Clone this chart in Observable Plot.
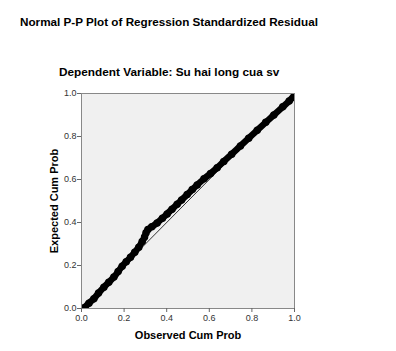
<!DOCTYPE html>
<html>
<head>
<meta charset="utf-8">
<script src="https://cdn.jsdelivr.net/npm/d3@7"></script>
<script src="https://cdn.jsdelivr.net/npm/@observablehq/plot@0.6"></script>
<style>
  html, body { margin: 0; padding: 0; background: #fff; }
  #wrap { position: relative; width: 396px; height: 351px; font-family: "Liberation Sans", Arial, sans-serif; }
  #title { position: absolute; left: 20px; top: 15px; font-weight: bold; font-size: 11.7px; color: #000; white-space: nowrap; }
  #subtitle { position: absolute; left: 59px; top: 65px; font-weight: bold; font-size: 11.8px; color: #000; white-space: nowrap; }
  #chart { position: absolute; left: 0; top: 0; }
</style>
</head>
<body>
<div id="wrap">
  <div id="chart"></div>
  <div id="title">Normal P-P Plot of Regression Standardized Residual</div>
  <div id="subtitle">Dependent Variable: Su hai long cua sv</div>
</div>
<script>
const observedCumProb = [0.015, 0.035, 0.058, 0.080, 0.105, 0.128, 0.152, 0.172, 0.191, 0.210, 0.230, 0.250, 0.269, 0.285, 0.296, 0.303, 0.312, 0.330, 0.355, 0.380, 0.402, 0.425, 0.449, 0.470, 0.496, 0.520, 0.543, 0.575, 0.606, 0.637, 0.668, 0.705, 0.746, 0.785, 0.825, 0.865, 0.903, 0.945, 0.975, 1.000];
const expectedCumProb = [0.005, 0.025, 0.045, 0.072, 0.099, 0.122, 0.146, 0.172, 0.197, 0.218, 0.238, 0.262, 0.285, 0.312, 0.332, 0.352, 0.368, 0.380, 0.398, 0.420, 0.440, 0.462, 0.485, 0.505, 0.530, 0.553, 0.575, 0.603, 0.628, 0.655, 0.684, 0.718, 0.756, 0.792, 0.829, 0.866, 0.900, 0.938, 0.965, 0.992];
const refLine = [0, 1];
const tickValues = [0, 0.2, 0.4, 0.6, 0.8, 1.0];

const pts = observedCumProb.map((x, i) => ({x, y: expectedCumProb[i]}));
const ref = refLine.map(v => ({x: v, y: v}));

const chart = Plot.plot({
  width: 396,
  height: 351,
  marginLeft: 81,
  marginRight: 102,
  marginTop: 93,
  marginBottom: 43,
  style: {fontFamily: "'Liberation Sans', Arial, sans-serif", fontSize: "9px", color: "#333", background: "transparent"},
  x: {domain: [0, 1], ticks: tickValues, tickFormat: d3.format(".1f"), tickSize: 4, tickPadding: 2, label: null},
  y: {domain: [0, 1], ticks: tickValues, tickFormat: d3.format(".1f"), tickSize: 4, tickPadding: 1, label: null},
  marks: [
    Plot.frame({fill: "#f0f0f0", stroke: "none"}),
    Plot.line(ref, {x: "x", y: "y", stroke: "#333", strokeWidth: 1}),
    Plot.line(pts, {x: "x", y: "y", stroke: "#000", strokeWidth: 6.5, strokeLinejoin: "round", strokeLinecap: "round", curve: "catmull-rom", clip: true}),
    Plot.dot(pts, {x: "x", y: "y", r: 3, stroke: "#000", strokeWidth: 1.5, fill: "#000", clip: true}),
    Plot.frame({stroke: "#888", strokeWidth: 1}),
    Plot.axisX({ticks: tickValues, tickFormat: d3.format(".1f"), tickSize: 4, tickPadding: 2, label: "Observed Cum Prob", labelAnchor: "center", labelArrow: "none", labelOffset: 30, stroke: "#666"}),
    Plot.axisY({ticks: tickValues, tickFormat: d3.format(".1f"), tickSize: 4, tickPadding: 1, label: "Expected Cum Prob", labelAnchor: "center", labelArrow: "none", labelOffset: 31, stroke: "#666"})
  ]
});
document.getElementById("chart").appendChild(chart);
d3.select(chart).selectAll("g[aria-label='x-axis label'] text, g[aria-label='y-axis label'] text")
  .style("font-weight", "bold").style("font-size", "11px").style("fill", "#000");
</script>
</body>
</html>
